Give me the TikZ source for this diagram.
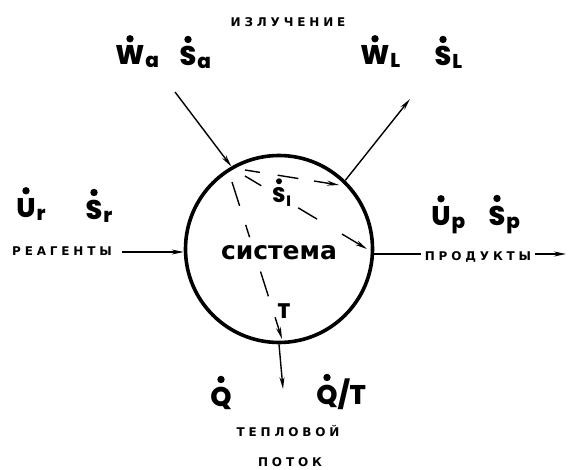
\documentclass[tikz,border=0pt]{standalone}
\usepackage{fontspec}
\setmainfont{Poppins}[BoldFont={Poppins ExtraBold}]
\newfontfamily\cyr{DejaVu Sans}
\newfontfamily\capfont{DejaVu Sans Bold}[LetterSpace=32]
\usetikzlibrary{arrows.meta}
\begin{document}
\begin{tikzpicture}[x=1pt,y=-1pt,
  sym/.style={font=\fontsize{27}{27}\selectfont\bfseries, inner sep=0pt, anchor=base},
  sub/.style={font=\fontsize{20}{20}\selectfont\bfseries, inner sep=0pt, anchor=base west, xshift=0.5pt, yshift=-3pt},
  symsmall/.style={sym, font=\fontsize{21}{21}\selectfont\bfseries},
  subsmall/.style={sub, font=\fontsize{15}{15}\selectfont\bfseries, yshift=-2pt},
  dotmark/.style={fill=black},
  capt/.style={font=\capfont\fontsize{12}{13}\selectfont, inner sep=0pt},
  flow/.style={line width=1.4pt,-{Stealth[length=12pt,width=5pt]}}]
\useasboundingbox (0,0) rectangle (569,470);
\node[circle, draw, line width=3.6pt, minimum size=187pt, inner sep=0pt] (sys) at (279,249) {};
\node[font=\cyr\bfseries\fontsize{25}{25}\selectfont, inner sep=0pt] (systxt) at (279,253) {система};
% captions
\node[capt] (izl) at (288,22) {ИЗЛУЧЕНИЕ};
\node[capt] (reag) at (62,251) {РЕАГЕНТЫ};
\node[capt] (prod) at (478,257) {ПРОДУКТЫ};
\node[capt] (tepl) at (288,431) {ТЕПЛОВОЙ};
\node[capt] (potok) at (290,462) {ПОТОК};
% symbols
\node[sym] (Wa) at (130,65) {W};  \node[sub] (Wa-s) at (Wa.base east) {a};
\node[sym] (Sa) at (188,66) {S};  \node[sub] (Sa-s) at (Sa.base east) {a};
\node[sym] (WL) at (375,65) {W};  \node[sub] (WL-s) at (WL.base east) {L};
\node[sym] (SL) at (443,66) {S};  \node[sub] (SL-s) at (SL.base east) {L};
\node[sym] (Ur) at (26,217) {U};  \node[sub] (Ur-s) at (Ur.base east) {r};
\node[sym] (Sr) at (94,219) {S};  \node[sub] (Sr-s) at (Sr.base east) {r};
\node[sym] (Up) at (441,225) {U}; \node[sub] (Up-s) at (Up.base east) {p};
\node[sym] (Sp) at (497,225) {S}; \node[sub] (Sp-s) at (Sp.base east) {p};
\node[sym] (Q) at (221,406) {Q};
\node[sym] (QT) at (327,404) {Q};  \node[sym, anchor=base west] (QT-s) at (QT.base east) {/T};
\node[symsmall] (Si) at (279,202) {S}; \node[subsmall] (Si-s) at (Si.base east) {I};
\node[symsmall] (T) at (284,318) {T};
% dots
\foreach \n in {Wa,Sa,WL,SL,Ur,Sr,Up,Sp,Q,QT}
  \fill[dotmark] ([yshift=7pt]\n.north) circle (3.7pt);
\fill[dotmark] ([yshift=5.5pt]Si.north) circle (3pt);
% coordinates
\coordinate (inA) at (175,92);
\coordinate (outL) at (410,99);
\coordinate (inR) at (122,252);
\coordinate (outP) at (421,254);
\coordinate (outP2) at (535,254);
\coordinate (outPend) at (566,254);
\coordinate (outQ) at (283,389);
\coordinate (d1s) at (245,170);
\coordinate (d1e) at (339,185);
\coordinate (d2s) at (245,176);
\coordinate (d2e) at (367,249);
\coordinate (d3s) at (232,182);
\coordinate (d3e) at (282,339);
% connectors
\draw[flow] (inA) -- (sys.120);
\draw[flow] (sys.46) -- (outL);
\draw[flow] (inR) -- (inR -| sys.west);
\draw[line width=1.4pt] (outP -| sys.east) -- (outP);
\draw[flow] (outP2) -- (outPend);
\draw[flow] (sys.south) -- (outQ);
\draw[flow, dash pattern=on 15pt off 18pt on 21pt off 16pt on 40pt] (d1s) -- (d1e);
\draw[flow, dash pattern=on 19pt off 43pt on 22pt off 29pt on 40pt] (d2s) -- (d2e);
\draw[flow, dash pattern=on 25pt off 20pt on 13pt off 36pt on 26pt off 22pt on 40pt] (d3s) -- (d3e);
\end{tikzpicture}
\end{document}
